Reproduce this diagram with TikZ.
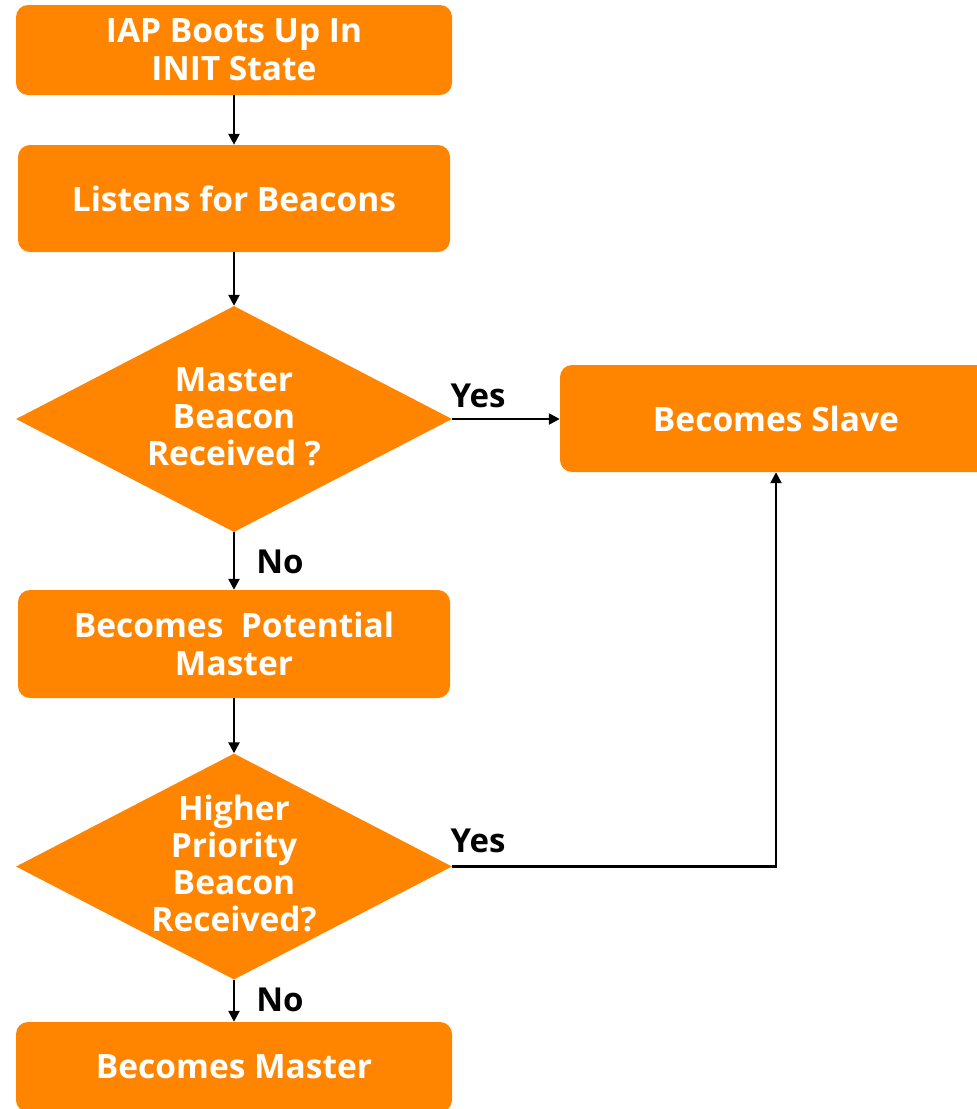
\documentclass[tikz,border=0pt]{standalone}
\usepackage{fontspec}
\setmainfont{Open Sans}
\usetikzlibrary{shapes.geometric,arrows.meta}
\definecolor{boxorange}{RGB}{255,133,0}
\begin{document}
\begin{tikzpicture}[x=1pt,y=-1pt,
  stepbox/.style={fill=boxorange,draw=none,rounded corners=12pt,inner sep=0pt,
    text=white,font=\bfseries\fontsize{33.5}{38}\selectfont,align=center},
  decision/.style={diamond,fill=boxorange,draw=none,inner sep=0pt,
    minimum width=436pt,minimum height=226pt,aspect=1.93},
  dtext/.style={text=white,font=\bfseries\fontsize{33.5}{37}\selectfont,align=center,inner sep=0pt},
  flow/.style={draw=black,line width=2.4pt,-{Triangle[length=11pt,width=11pt]}},
  lbl/.style={text=black,font=\bfseries\fontsize{33}{36}\selectfont,inner sep=0pt}]
\useasboundingbox (0,0) rectangle (977,1109);
\fill[white] (0,0) rectangle (977,1109);

\node[stepbox,minimum width=436pt,minimum height=90pt] (boot) at (234,50) {IAP Boots Up In\\INIT State};
\node[stepbox,minimum width=432pt,minimum height=107pt] (listen) at (234,198.5) {Listens for Beacons};
\node[decision] (d1) at (234,419) {};
\node[dtext] (d1t) at (234,417) {Master\\Beacon\\Received ?};
\node[stepbox,minimum width=432pt,minimum height=108pt] (potential) at (234,644) {Becomes\ \ Potential\\Master};
\node[decision] (d2) at (234,866.5) {};
\node[dtext] (d2t) at (234,863) {Higher\\Priority\\Beacon\\Received?};
\node[stepbox,minimum width=436pt,minimum height=90pt] (master) at (234,1067) {Becomes Master};
\node[stepbox,minimum width=432pt,minimum height=107pt] (slave) at (776,418.5) {Becomes Slave};

\draw[flow] (boot) -- (listen);
\draw[flow] (listen) -- (d1.north);
\draw[flow] (d1.south) -- (potential);
\draw[flow] (potential) -- (d2.north);
\draw[flow] (d2.south) -- (master);
\draw[flow] (d1.east) -- (slave.west |- d1.east);
\draw[flow] (d2.east) -| (slave.south);

\node[lbl] (y1) at (478,396) {Yes};
\node[lbl] (y2) at (478,841) {Yes};
\node[lbl] (n1) at (280,562) {No};
\node[lbl] (n2) at (280,1000) {No};
\end{tikzpicture}
\end{document}
